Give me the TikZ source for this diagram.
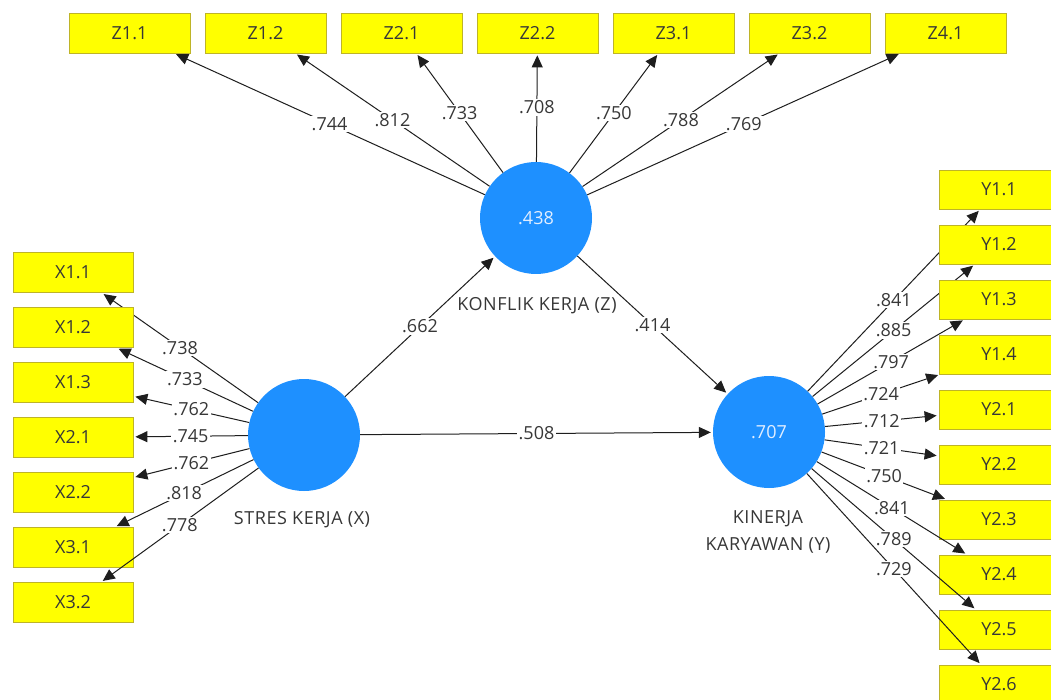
\documentclass[tikz,border=0pt]{standalone}
\usepackage{fontspec}
\setmainfont{Open Sans}
\usetikzlibrary{arrows.meta}
\definecolor{boxfill}{RGB}{255,255,0}
\definecolor{boxline}{RGB}{190,180,40}
\definecolor{lvfill}{RGB}{30,144,255}
\definecolor{lvtext}{RGB}{225,238,255}
\definecolor{txt}{RGB}{55,55,55}
\definecolor{edge}{RGB}{30,30,30}
\tikzset{
  fnt/.style={font=\fontsize{18}{27}\selectfont},
  namefnt/.style={font=\fontsize{18}{27}\selectfont\addfontfeature{LetterSpace=3}},
  ind/.style={draw=boxline, fill=boxfill, line width=0.8pt, minimum width=121pt,
    minimum height=40pt, inner sep=0pt, text=txt, fnt},
  lv/.style={circle, fill=lvfill, minimum size=112pt, inner sep=0pt, text=lvtext, fnt},
  lvname/.style={text=txt, namefnt, align=center, inner sep=0pt},
  lab/.style={fill=white, inner sep=1.5pt, text=txt, fnt},
  conn/.style={draw=edge, line width=1pt, -{Triangle[length=12pt,width=11pt]}, shorten >=2pt}
}
\begin{document}
\begin{tikzpicture}[x=1pt,y=-1pt]
\useasboundingbox (0,0) rectangle (1051,700);
\clip (0,0) rectangle (1051,700);
\fill[white] (0,0) rectangle (1051,700);
% latent variables
\node[lv] (X) at (304,435) {};
\node[lv] (Z) at (536,218) {.438};
\node[lv] (Y) at (769,432) {.707};
\node[lvname] (Xn) at (302,520) {STRES KERJA (X)};
\node[lvname] (Zn) at (537,306) {KONFLIK KERJA (Z)};
\node[lvname] (Yn) at (768,532) {KINERJA\\KARYAWAN (Y)};
% structural paths
\draw[conn] (X) -- node[lab,midway] {.662} (Z);
\draw[conn] (Z) -- node[lab,midway] {.414} (Y);
\draw[conn] (X) -- node[lab,midway] {.508} (Y);
% Z indicators
\foreach \n/\t/\v [count=\i from 0] in {z11/Z1.1/.744, z12/Z1.2/.812, z21/Z2.1/.733,
  z22/Z2.2/.708, z31/Z3.1/.750, z32/Z3.2/.788, z41/Z4.1/.769} {
  \node[ind] (\n) at ({129.5+136*\i},33) {\t};
  \draw[conn] (Z) -- node[lab,midway] {\v} (\n);
}
% X indicators
\foreach \n/\t/\v [count=\i from 0] in {x11/X1.1/.738, x12/X1.2/.733, x13/X1.3/.762,
  x21/X2.1/.745, x22/X2.2/.762, x31/X3.1/.818, x32/X3.2/.778} {
  \node[ind, minimum width=120pt] (\n) at (73,{272.5+55*\i}) {\t};
  \draw[conn] (X) -- node[lab,midway] {\v} (\n);
}
% Y indicators
\foreach \n/\t/\v [count=\i from 0] in {y11/Y1.1/.841, y12/Y1.2/.885, y13/Y1.3/.797,
  y14/Y1.4/.724, y21/Y2.1/.712, y22/Y2.2/.721, y23/Y2.3/.750, y24/Y2.4/.841,
  y25/Y2.5/.789, y26/Y2.6/.729} {
  \node[ind, minimum width=120pt, minimum height=39pt] (\n) at (999,{189.5+55*\i}) {\t};
  \draw[conn] (Y) -- node[lab,midway] {\v} (\n);
}
\end{tikzpicture}
\end{document}
